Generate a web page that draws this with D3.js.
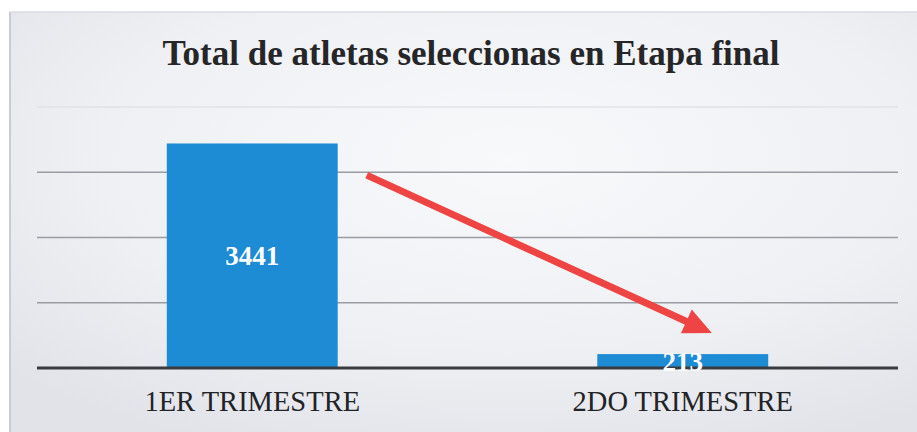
<!DOCTYPE html>
<html>
<head>
<meta charset="utf-8">
<script src="https://cdn.jsdelivr.net/npm/d3@7/dist/d3.min.js"></script>
<style>
  html, body { margin: 0; padding: 0; background: #ffffff; }
  svg { display: block; }
</style>
</head>
<body>
<svg id="chart" width="917" height="432"></svg>
<script>
// Chart data
const categories = ["1ER TRIMESTRE", "2DO TRIMESTRE"];
const values = [3441, 213];
const yTicks = [0, 1000, 2000, 3000, 4000];
const title = "Total de atletas seleccionas en Etapa final";

const W = 917, H = 432;
const svg = d3.select("#chart");

// Panel background with a soft light centre
const defs = svg.append("defs");
const grad = defs.append("radialGradient")
  .attr("id", "panelBg").attr("cx", "55%").attr("cy", "35%").attr("r", "75%");
grad.append("stop").attr("offset", "0%").attr("stop-color", "#f8f9fb");
grad.append("stop").attr("offset", "60%").attr("stop-color", "#eef0f3");
grad.append("stop").attr("offset", "100%").attr("stop-color", "#e1e3e9");

svg.append("rect").attr("x", 0).attr("y", 0).attr("width", W).attr("height", H).attr("fill", "#ffffff");
svg.append("rect").attr("x", 10).attr("y", 12).attr("width", W - 10).attr("height", H - 12)
  .attr("fill", "url(#panelBg)");
svg.append("line").attr("x1", 10).attr("x2", 10).attr("y1", 12).attr("y2", H)
  .attr("stroke", "#c9ccd3").attr("stroke-width", 2);
svg.append("line").attr("x1", 10).attr("x2", W).attr("y1", 12).attr("y2", 12)
  .attr("stroke", "#d9dbe0").attr("stroke-width", 1.5);

// Plot area
const plot = { left: 37, right: 898, top: 107, bottom: 368 };

const x = d3.scaleBand()
  .domain(categories)
  .range([plot.left, plot.right])
  .paddingInner(0.603)
  .paddingOuter(0.3015);

const y = d3.scaleLinear()
  .domain([0, 4000])
  .range([plot.bottom, plot.top]);

// Horizontal gridlines
svg.append("g").selectAll("line")
  .data(yTicks.filter(d => d > 0))
  .join("line")
  .attr("x1", plot.left).attr("x2", plot.right)
  .attr("y1", d => y(d)).attr("y2", d => y(d))
  .attr("stroke", d => d === 4000 ? "#e0e2e6" : "#9a9ca2")
  .attr("stroke-width", 1.5);

// Bars
svg.append("g").selectAll("rect")
  .data(categories)
  .join("rect")
  .attr("x", d => x(d))
  .attr("width", x.bandwidth())
  .attr("y", (d, i) => y(values[i]))
  .attr("height", (d, i) => y(0) - y(values[i]))
  .attr("fill", "#1e8bd5");

// Category axis line
svg.append("line")
  .attr("x1", plot.left).attr("x2", plot.right)
  .attr("y1", y(0)).attr("y2", y(0))
  .attr("stroke", "#3a3b3f").attr("stroke-width", 3);

// Value labels centred in each bar
svg.append("g").selectAll("text")
  .data(categories)
  .join("text")
  .attr("x", d => x(d) + x.bandwidth() / 2)
  .attr("y", (d, i) => (y(values[i]) + y(0)) / 2)
  .attr("dy", "0.35em")
  .attr("text-anchor", "middle")
  .attr("font-family", "'Liberation Serif', 'Times New Roman', serif")
  .attr("font-weight", "bold")
  .attr("font-size", 27)
  .attr("fill", "#ffffff")
  .text((d, i) => values[i]);

// Category labels
svg.append("g").selectAll("text")
  .data(categories)
  .join("text")
  .attr("x", d => x(d) + x.bandwidth() / 2)
  .attr("y", 411)
  .attr("text-anchor", "middle")
  .attr("font-family", "'Liberation Serif', 'Times New Roman', serif")
  .attr("font-size", 28.5)
  .attr("fill", "#222326")
  .text(d => d);

// Title
svg.append("text")
  .attr("x", 471)
  .attr("y", 65)
  .attr("text-anchor", "middle")
  .attr("font-family", "'Liberation Serif', 'Times New Roman', serif")
  .attr("font-weight", "bold")
  .attr("font-size", 35)
  .attr("fill", "#262629")
  .text(title);

// Downward trend arrow from the first bar toward the second
const bw = x.bandwidth();
const start = [x(categories[0]) + bw * 1.17, y(2955)];
const end = [x(categories[1]) + bw * 0.67, y(535)];
const ang = Math.atan2(end[1] - start[1], end[0] - start[0]);
const headLen = 28, headHalf = 13;
const baseX = end[0] - headLen * Math.cos(ang), baseY = end[1] - headLen * Math.sin(ang);
const arrow = svg.append("g");
arrow.append("line")
  .attr("x1", start[0]).attr("y1", start[1])
  .attr("x2", baseX + 2 * Math.cos(ang)).attr("y2", baseY + 2 * Math.sin(ang))
  .attr("stroke", "#ef4444").attr("stroke-width", 7);
arrow.append("path")
  .attr("d", d3.line()([
    end,
    [baseX + headHalf * Math.sin(ang), baseY - headHalf * Math.cos(ang)],
    [baseX - headHalf * Math.sin(ang), baseY + headHalf * Math.cos(ang)]
  ]) + "Z")
  .attr("fill", "#ef4444");
</script>
</body>
</html>
